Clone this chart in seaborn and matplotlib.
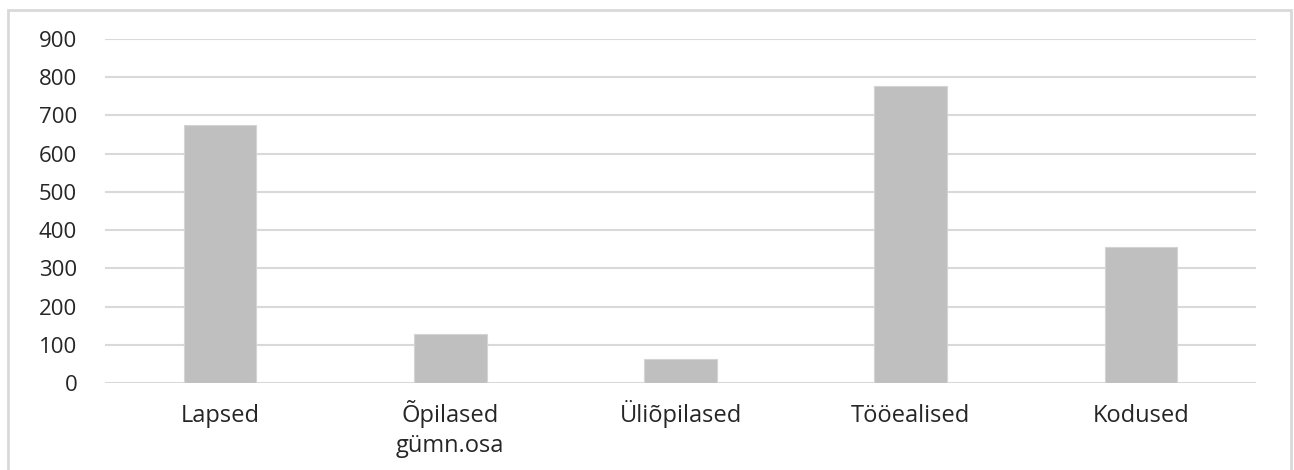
import matplotlib
matplotlib.use("Agg")
import matplotlib.pyplot as plt
from matplotlib.patches import Rectangle
import seaborn as sns
import pandas as pd

kategooriad = ["Lapsed", "Õpilased\ngümn.osa", "Üliõpilased", "Tööealised", "Kodused"]
vaartused = [674, 127, 64, 777, 355]
y_tickid = [0, 100, 200, 300, 400, 500, 600, 700, 800, 900]

df = pd.DataFrame({"kategooria": kategooriad, "arv": vaartused})

sns.set_style("white")
plt.rcParams["font.family"] = ["Open Sans", "DejaVu Sans"]

fig = plt.figure(figsize=(12.94, 4.70), dpi=100)
ax = fig.add_axes([105 / 1294, 1 - 383 / 470, (1256 - 105) / 1294, (383 - 39) / 470])

sns.barplot(data=df, x="kategooria", y="arv", color="#bfbfbf", width=0.316,
            edgecolor="#d4d4d4", linewidth=0.8, saturation=1, ax=ax, zorder=3)

ax.set_ylim(0, 900)
ax.set_xlim(-0.5, len(kategooriad) - 0.5)
ax.set_yticks(y_tickid)
ax.yaxis.grid(True, color="#d9d9d9", linewidth=1.5, zorder=0)
ax.set_axisbelow(True)
for s in ax.spines.values():
    s.set_visible(False)
ax.set_xlabel("")
ax.set_ylabel("")
ax.tick_params(axis="y", length=0, pad=20, labelsize=16, labelcolor="#262626")
ax.tick_params(axis="x", length=0, pad=28, labelsize=17, labelcolor="#262626")

# mitmerealised sildid: esimene rida tikina, teised rida allapoole
ax.set_xticks(range(len(kategooriad)))
ax.set_xticklabels([k.split("\n")[0] for k in kategooriad])
for lbl in ax.get_xticklabels():
    lbl.set_va("baseline")
for i, k in enumerate(kategooriad):
    for j, rida in enumerate(k.split("\n")[1:]):
        ax.annotate(rida, xy=(i, 0), xycoords=("data", "axes fraction"),
                    xytext=(0, -28 - 21.6 * (j + 1)), textcoords="offset points",
                    ha="center", va="baseline", fontsize=17, color="#262626")

# raam ümber joonise
fig.patches.append(Rectangle((8 / 1294, -0.05), (1291 - 8) / 1294, 1.05 - 10 / 470,
                             transform=fig.transFigure, fill=False,
                             edgecolor="#d9d9d9", linewidth=2))

fig.savefig("out.png", dpi=100)
